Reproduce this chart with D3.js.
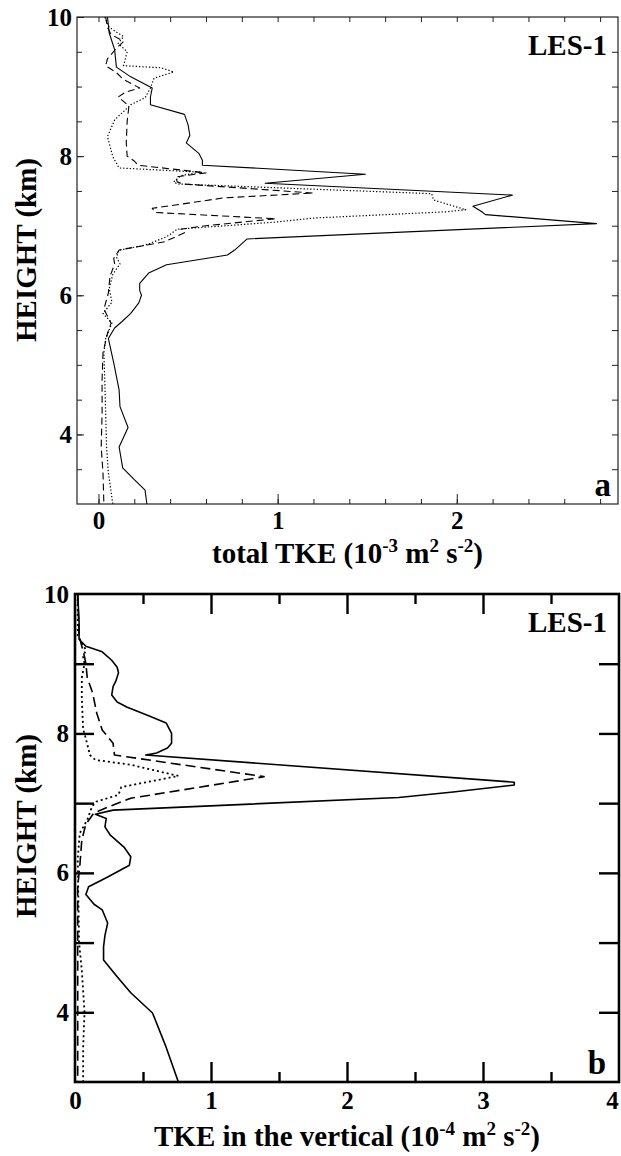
<!DOCTYPE html>
<html>
<head>
<meta charset="utf-8">
<script src="https://cdn.jsdelivr.net/npm/d3@7"></script>
<style>
  html, body { margin: 0; padding: 0; background: #fff; }
  svg { display: block; }
  text { font-family: "Liberation Serif", "DejaVu Serif", serif; font-weight: bold; fill: #000; }
</style>
</head>
<body>
<svg id="chart" width="621" height="1156"></svg>
<script>
// ---------------- DATA ----------------
// Panel a: total TKE (10^-3 m2 s-2) vs height (km); pairs [height, value]
const aSolid = [
  [10.0,0.05],[9.77,0.06],[9.53,0.09],[9.28,0.10],[9.14,0.18],[8.98,0.30],[8.85,0.29],
  [8.74,0.29],[8.60,0.48],[8.45,0.50],[8.30,0.51],[8.19,0.49],[8.04,0.56],[7.94,0.58],
  [7.87,0.58],[7.74,1.49],[7.61,0.93],[7.44,2.31],[7.28,2.09],[7.20,2.14],[7.16,2.16],
  [7.03,2.78],[6.81,0.83],[6.65,0.76],[6.58,0.72],[6.44,0.38],[6.32,0.28],[6.17,0.23],
  [6.07,0.23],[6.00,0.24],[5.89,0.225],[5.74,0.18],[5.62,0.13],[5.53,0.09],[5.38,0.055],
  [5.03,0.085],[4.64,0.115],[4.40,0.12],[4.10,0.165],[3.82,0.115],[3.52,0.135],[3.35,0.20],
  [3.20,0.26],[3.00,0.27]
];
const aDashed = [
  [10.0,0.04],[9.85,0.05],[9.75,0.07],[9.65,0.14],[9.55,0.10],[9.40,0.05],[9.30,0.04],
  [9.20,0.10],[9.10,0.14],[8.98,0.23],[8.92,0.15],[8.85,0.11],[8.72,0.17],[8.50,0.16],
  [8.20,0.155],[8.00,0.16],[7.93,0.20],[7.87,0.22],[7.76,0.60],[7.70,0.43],[7.63,0.44],
  [7.60,0.47],[7.47,1.20],[7.40,0.70],[7.25,0.30],[7.19,0.32],[7.10,0.99],[7.00,0.60],
  [6.95,0.46],[6.90,0.48],[6.77,0.37],[6.65,0.115],[6.53,0.085],[6.45,0.09],[6.27,0.064],
  [6.03,0.055],[5.80,0.03],[5.60,0.07],[5.45,0.05],[5.17,0.025],[4.78,0.02],[4.30,0.02],
  [3.82,0.015],[3.45,0.025],[3.00,0.03]
];
const aDotted = [
  [10.0,0.035],[9.85,0.06],[9.72,0.14],[9.62,0.11],[9.50,0.16],[9.30,0.14],[9.27,0.35],
  [9.21,0.42],[9.12,0.31],[8.98,0.29],[8.84,0.26],[8.74,0.18],[8.52,0.09],[8.28,0.05],
  [7.99,0.08],[7.83,0.115],[7.77,0.57],[7.72,0.46],[7.63,0.42],[7.60,0.44],[7.46,1.86],
  [7.37,1.87],[7.23,2.05],[7.20,1.94],[7.11,1.20],[7.05,0.98],[6.95,0.44],[6.84,0.38],
  [6.72,0.26],[6.65,0.115],[6.55,0.10],[6.45,0.12],[6.30,0.08],[6.10,0.06],[5.90,0.075],
  [5.74,0.025],[5.60,0.075],[5.38,0.04],[5.17,0.03],[4.78,0.035],[4.30,0.04],[3.82,0.045],
  [3.45,0.055],[3.00,0.08]
];

// Panel b: TKE in the vertical (10^-4 m2 s-2) vs height (km); pairs [height, value]
const bSolid = [
  [10.0,0.02],[9.60,0.03],[9.35,0.03],[9.25,0.08],[9.17,0.20],[9.05,0.27],[8.95,0.31],
  [8.87,0.32],[8.75,0.30],[8.67,0.28],[8.55,0.27],[8.45,0.31],[8.38,0.38],[8.24,0.56],
  [8.15,0.67],[8.00,0.71],[7.86,0.71],[7.79,0.68],[7.72,0.60],[7.69,0.52],[7.30,3.23],
  [7.26,3.23],[7.16,2.78],[7.08,2.38],[6.90,0.28],[6.84,0.15],[6.78,0.23],[6.66,0.22],
  [6.54,0.26],[6.37,0.36],[6.23,0.41],[6.11,0.40],[5.93,0.23],[5.80,0.10],[5.69,0.08],
  [5.55,0.14],[5.47,0.20],[5.28,0.24],[5.10,0.22],[4.94,0.21],[4.75,0.21],[4.51,0.31],
  [4.28,0.41],[3.99,0.57],[3.50,0.67],[3.00,0.76]
];
const bDashed = [
  [10.0,0.02],[9.40,0.03],[9.25,0.05],[9.10,0.07],[9.00,0.08],[8.80,0.09],[8.58,0.13],
  [8.48,0.14],[8.29,0.16],[8.05,0.20],[7.86,0.28],[7.69,0.29],[7.38,1.39],[7.35,1.30],
  [7.07,0.41],[6.95,0.25],[6.86,0.14],[6.70,0.08],[6.47,0.05],[6.09,0.035],[5.80,0.02],
  [3.00,0.02]
];
const bDotted = [
  [10.0,0.02],[9.40,0.02],[9.30,0.05],[9.20,0.08],[9.10,0.06],[9.00,0.07],[8.80,0.05],
  [8.52,0.05],[8.05,0.06],[8.00,0.07],[7.69,0.11],[7.62,0.15],[7.55,0.41],[7.39,0.76],
  [7.23,0.34],[7.12,0.32],[7.02,0.155],[6.95,0.125],[6.76,0.09],[6.57,0.035],[6.20,0.02],
  [5.00,0.03],[4.60,0.05],[4.30,0.06],[4.00,0.07],[3.50,0.06],[3.00,0.06]
];

// Tick values / labels
const aXLabelTicks = [0, 1, 2];
const aXMinorTicks = d3.range(-0.0, 2.81, 0.2);
const aYLabelTicks = [4, 6, 8, 10];
const aYMinorTicks = d3.range(3.5, 10, 0.5);
const bXLabelTicks = [0, 1, 2, 3, 4];
const bXMajorTicks = [1, 2, 3];
const bXMinorTicks = [0.5, 1.5, 2.5, 3.5];
const bYLabelTicks = [4, 6, 8, 10];
const bYTicks = [4, 5, 6, 7, 8, 9];

const panelTag = "LES-1";
const yTitle = "HEIGHT (km)";

// ---------------- DRAW ----------------
const svg = d3.select("#chart");

const xA = d3.scaleLinear().domain([-0.12, 2.9]).range([77, 618]);
const yA = d3.scaleLinear().domain([3, 10]).range([504, 17]);
const xB = d3.scaleLinear().domain([0, 4]).range([75, 619]);
const yB = d3.scaleLinear().domain([3, 10]).range([1082, 594]);

function styleLabels(g, size) {
  g.selectAll("text").attr("font-size", size).attr("fill", "#000")
    .style("font-family", '"Liberation Serif", serif').style("font-weight", "bold");
}
function noDomain(g) { g.select(".domain").remove(); }

function drawPanel(cfg) {
  const { x, y, frameW, tickColor } = cfg;
  const [x0, x1] = x.range();
  const [y1, y0] = y.range();
  const g = svg.append("g");

  const clipId = "clip" + cfg.id;
  svg.append("clipPath").attr("id", clipId).append("rect")
    .attr("x", x0).attr("y", y0).attr("width", x1 - x0).attr("height", y1 - y0);

  const line = d3.line().x(d => x(d[1])).y(d => y(d[0])).curve(d3.curveLinear);
  const lg = g.append("g").attr("clip-path", `url(#${clipId})`);
  cfg.series.forEach(s => {
    lg.append("path").attr("d", line(s.data)).attr("fill", "none")
      .attr("stroke", "#000").attr("stroke-width", s.w)
      .attr("stroke-dasharray", s.dash || null)
      .attr("stroke-linejoin", "round");
  });

  g.append("rect").attr("x", x0).attr("y", y0).attr("width", x1 - x0).attr("height", y1 - y0)
    .attr("fill", "none").attr("stroke", tickColor).attr("stroke-width", frameW);

  return g;
}

// ----- Panel a -----
const gA = drawPanel({
  id: "a", x: xA, y: yA, frameW: 1.2, tickColor: "#222",
  series: [
    { data: aSolid, w: 1.1 },
    { data: aDashed, w: 1.1, dash: "7,4" },
    { data: aDotted, w: 1.2, dash: "1.3,2" }
  ]
});
gA.append("g").attr("transform", `translate(0,${yA(3)})`)
  .call(d3.axisBottom(xA).tickValues(aXMinorTicks).tickSize(-5).tickFormat(""))
  .call(noDomain).selectAll("line").attr("stroke", "#222");
gA.append("g").attr("transform", `translate(0,${yA(3)})`)
  .call(d3.axisBottom(xA).tickValues(aXLabelTicks).tickSize(-10).tickPadding(7).tickFormat(d3.format("d")))
  .call(noDomain).call(g => styleLabels(g, 25)).selectAll("line").attr("stroke", "#222");
gA.append("g").attr("transform", `translate(0,${yA(10)})`)
  .call(d3.axisTop(xA).tickValues(aXMinorTicks).tickSize(-5).tickFormat(""))
  .call(noDomain).selectAll("line").attr("stroke", "#222");
gA.append("g").attr("transform", `translate(${xA(-0.12)},0)`)
  .call(d3.axisLeft(yA).tickValues(aYMinorTicks).tickSize(-5).tickFormat(""))
  .call(noDomain).selectAll("line").attr("stroke", "#222");
gA.append("g").attr("transform", `translate(${xA(-0.12)},0)`)
  .call(d3.axisLeft(yA).tickValues(aYLabelTicks).tickSize(-7).tickPadding(5).tickFormat(d3.format("d")))
  .call(noDomain).call(g => styleLabels(g, 25)).selectAll("line").attr("stroke", "#222");
gA.append("g").attr("transform", `translate(${xA(2.9)},0)`)
  .call(d3.axisRight(yA).tickValues(aYMinorTicks).tickSize(-6).tickFormat(""))
  .call(noDomain).selectAll("line").attr("stroke", "#222");

// ----- Panel b -----
const gB = drawPanel({
  id: "b", x: xB, y: yB, frameW: 2.6, tickColor: "#000",
  series: [
    { data: bSolid, w: 1.6 },
    { data: bDashed, w: 1.6, dash: "10,5" },
    { data: bDotted, w: 1.8, dash: "2,3" }
  ]
});
gB.append("g").attr("transform", `translate(0,${yB(3)})`)
  .call(d3.axisBottom(xB).tickValues(bXMinorTicks).tickSize(-10).tickFormat(""))
  .call(noDomain).selectAll("line").attr("stroke-width", 2.4);
gB.append("g").attr("transform", `translate(0,${yB(3)})`)
  .call(d3.axisBottom(xB).tickValues(bXMajorTicks).tickSize(-20).tickFormat(""))
  .call(noDomain).selectAll("line").attr("stroke-width", 2.4);
const bxl = gB.append("g").attr("transform", `translate(0,${yB(3)})`)
  .call(d3.axisBottom(xB).tickValues(bXLabelTicks).tickSize(0).tickPadding(9).tickFormat(d3.format("d")))
  .call(noDomain).call(g => styleLabels(g, 25));
bxl.selectAll("text").filter(d => d === 4).attr("dx", -7);
gB.append("g").attr("transform", `translate(0,${yB(10)})`)
  .call(d3.axisTop(xB).tickValues(bXMinorTicks).tickSize(-10).tickFormat(""))
  .call(noDomain).selectAll("line").attr("stroke-width", 2.4);
gB.append("g").attr("transform", `translate(0,${yB(10)})`)
  .call(d3.axisTop(xB).tickValues(bXMajorTicks).tickSize(-20).tickFormat(""))
  .call(noDomain).selectAll("line").attr("stroke-width", 2.4);
gB.append("g").attr("transform", `translate(${xB(0)},0)`)
  .call(d3.axisLeft(yB).tickValues(bYTicks).tickSize(-19).tickFormat(""))
  .call(noDomain).selectAll("line").attr("stroke-width", 2.4);
gB.append("g").attr("transform", `translate(${xB(0)},0)`)
  .call(d3.axisLeft(yB).tickValues(bYLabelTicks).tickSize(0).tickPadding(6).tickFormat(d3.format("d")))
  .call(noDomain).call(g => styleLabels(g, 25));
gB.append("g").attr("transform", `translate(${xB(4)},0)`)
  .call(d3.axisRight(yB).tickValues(bYTicks).tickSize(-20).tickFormat(""))
  .call(noDomain).selectAll("line").attr("stroke-width", 2.4);

// ----- Texts -----
function tagText(x, y, t, size) {
  svg.append("text").attr("x", x).attr("y", y).attr("text-anchor", "end")
    .attr("font-size", size).text(t);
}
tagText(607, yA(10) + 38, panelTag, 29);
tagText(607, yB(10) + 38, panelTag, 29);
tagText(611, yA(3) - 8, "a", 33);
tagText(606, yB(3) - 8, "b", 33);

function yLabel(cy) {
  svg.append("text").attr("transform", `translate(36,${cy}) rotate(-90)`)
    .attr("text-anchor", "middle").attr("font-size", 29).text(yTitle);
}
yLabel(250);
yLabel(826);

function xTitle(cx, by, parts) {
  const t = svg.append("text").attr("x", cx).attr("y", by).attr("text-anchor", "middle")
    .attr("font-size", 29);
  let raised = false;
  parts.forEach(p => {
    const ts = t.append("tspan").text(p.t);
    if (p.sup) {
      ts.attr("font-size", 19).attr("dy", raised ? 0 : -11);
      raised = true;
    } else {
      ts.attr("font-size", 29).attr("dy", raised ? 11 : 0);
      raised = false;
    }
  });
}
xTitle((77 + 618) / 2, 563, [
  { t: "total TKE (10" }, { t: "-3", sup: true }, { t: " m" }, { t: "2", sup: true },
  { t: " s" }, { t: "-2", sup: true }, { t: ")" }
]);
xTitle((75 + 619) / 2, 1146, [
  { t: "TKE in the vertical (10" }, { t: "-4", sup: true }, { t: " m" }, { t: "2", sup: true },
  { t: " s" }, { t: "-2", sup: true }, { t: ")" }
]);
</script>
</body>
</html>
